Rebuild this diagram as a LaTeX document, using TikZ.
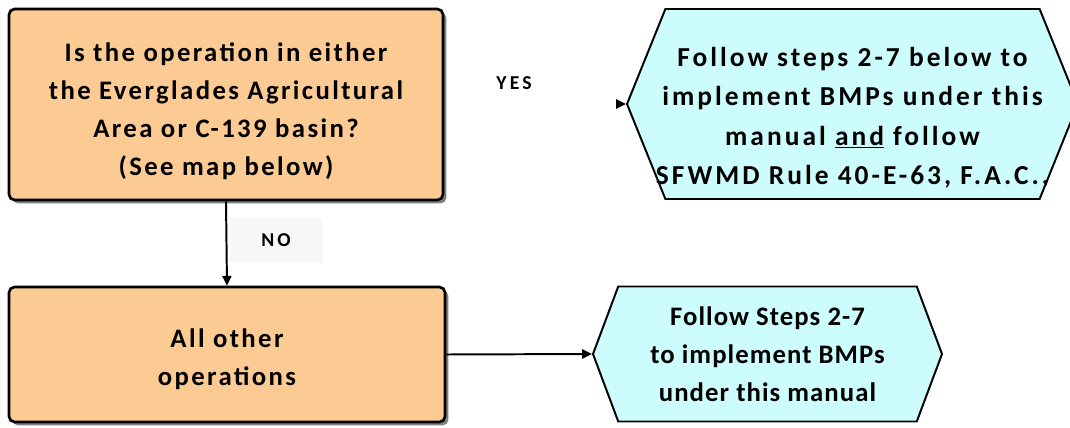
\documentclass[tikz,border=0pt]{standalone}
\usepackage{fontspec}
\newfontfamily\flowfont{Carlito}[LetterSpace=9]
\newfontfamily\hexfont{Carlito}[LetterSpace=11]
\newfontfamily\tightfont{Carlito}[LetterSpace=4]
\newfontfamily\labfont{Carlito}[LetterSpace=16]
\usetikzlibrary{shapes.symbols,shadows,arrows.meta}

\begin{document}
\begin{tikzpicture}[every node/.style={font=\flowfont\bfseries,align=center},
  qbox/.style={draw,line width=1.9pt,fill=boxorange,rounded corners=4pt,
    drop shadow={shadow xshift=2.4pt,shadow yshift=-2.4pt,fill=black!50,opacity=1}},
  todo/.style={draw,line width=1.4pt,fill=hexcyan,signal,signal to=west and east},
  ans/.style={font=\labfont\bfseries\fontsize{14}{16}\selectfont},
  fl/.style={line width=1.4pt,-{Triangle[length=7pt,width=6.5pt]}}]
\definecolor{boxorange}{HTML}{FCCB93}
\definecolor{hexcyan}{HTML}{CCFCFC}
\useasboundingbox (0,0) rectangle (26.75,10.675);
%------------- left column: questions
\node[qbox,minimum width=10.85cm,minimum height=4.775cm,font=\flowfont\bfseries\fontsize{19}{27}\selectfont]
  (ask) at (5.65,8.0625) {\rule{0pt}{23pt}Is the operation in either\\the Everglades Agricultural\\Area or C-139 basin?\\(See map below)};
\node[qbox,minimum width=10.9cm,minimum height=3.375cm,font=\flowfont\bfseries\fontsize{19}{26.5}\selectfont]
  (other) at (5.675,1.8125) {\rule{0pt}{20pt}All other\\operations};
%------------- right column: what to do
\node[todo,signal pointer angle=136,inner xsep=-16pt,minimum width=11.275cm,minimum height=4.75cm,font=\hexfont\bfseries\fontsize{19.5}{28}\selectfont]
  (eaa) at (21.3125,8.075) {\rule{0pt}{33pt}Follow steps 2-7 below to\\implement BMPs under this\\manual \underline{and} follow\\SFWMD Rule 40-E-63, F.A.C.,};
\node[todo,signal pointer angle=139,minimum width=8.725cm,minimum height=3.375cm,font=\tightfont\bfseries\fontsize{19}{27}\selectfont]
  (rest) at (19.1875,1.825) {Follow Steps 2-7\\to implement BMPs\\under this manual};
%------------- answers
\node[ans] (yes) at (12.85,8.6) {YES};
\node[ans,fill=black!3,minimum width=2.325cm,minimum height=1.125cm] (no) at (6.9,4.66) {NO};
\coordinate (yestail) at ([xshift=-7pt]eaa.west);
\draw[fl] (yestail) -- (eaa.west);
\draw[fl] (ask.south) -- (other.north);
\draw[fl] (other.east) -- (rest.west);
\end{tikzpicture}
\end{document}
